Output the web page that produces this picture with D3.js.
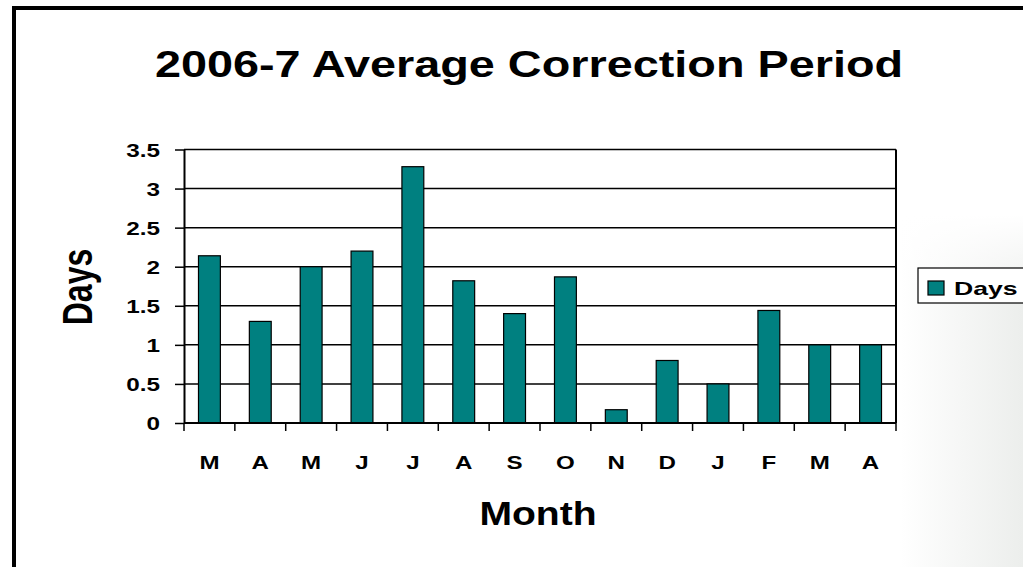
<!DOCTYPE html>
<html>
<head>
<meta charset="utf-8">
<script src="https://cdn.jsdelivr.net/npm/d3@7"></script>
<style>
  body { margin: 0; background: #fff; }
  text { font-family: Arial, "Liberation Sans", sans-serif; font-weight: bold; fill: #000; }
</style>
</head>
<body>
<div id="viz"></div>
<script>
// data
let months = ["M", "A", "M", "J", "J", "A", "S", "O", "N", "D", "J", "F", "M", "A"];
let days = [2.14, 1.30, 2.0, 2.2, 3.28, 1.82, 1.40, 1.87, 0.17, 0.80, 0.50, 1.44, 1.0, 1.0];
let yTicks = [0, 0.5, 1, 1.5, 2, 2.5, 3, 3.5];

let width = 1023, height = 567;
let plot = {left: 184, right: 896, top: 149.5, bottom: 423};

let svg = d3.select("#viz").append("svg")
    .attr("width", width)
    .attr("height", height);

// grey shade in the lower right corner
let defs = svg.append("defs");
let g1 = defs.append("linearGradient").attr("id", "shadeX")
    .attr("x1", 0).attr("x2", 1).attr("y1", 0).attr("y2", 0);
g1.append("stop").attr("offset", "0%").attr("stop-color", "#ffffff");
g1.append("stop").attr("offset", "100%").attr("stop-color", "#eceeec");
let g2 = defs.append("linearGradient").attr("id", "fadeY")
    .attr("x1", 0).attr("x2", 0).attr("y1", 0).attr("y2", 1);
g2.append("stop").attr("offset", "0%").attr("stop-color", "#fff").attr("stop-opacity", 1);
g2.append("stop").attr("offset", "100%").attr("stop-color", "#fff").attr("stop-opacity", 0);

svg.append("rect").attr("x", 900).attr("y", 215).attr("width", 123).attr("height", 352)
    .attr("fill", "url(#shadeX)");
svg.append("rect").attr("x", 900).attr("y", 215).attr("width", 123).attr("height", 90)
    .attr("fill", "url(#fadeY)");

// outer frame (runs off the right and bottom edges)
svg.append("rect")
    .attr("x", 14).attr("y", 8)
    .attr("width", 1100).attr("height", 700)
    .attr("fill", "none")
    .attr("stroke", "#000")
    .attr("stroke-width", 4);

// title
svg.append("text")
    .attr("transform", "translate(529,77) scale(1.3,1)")
    .attr("text-anchor", "middle")
    .style("font-size", "36px")
    .text("2006-7 Average Correction Period");

let x = d3.scaleBand()
    .domain(d3.range(months.length))
    .range([plot.left, plot.right])
    .paddingInner(0.57)
    .paddingOuter(0.285);

let y = d3.scaleLinear()
    .domain([0, 3.5])
    .range([plot.bottom, plot.top]);

// gridlines
svg.append("g")
    .selectAll("line")
    .data(yTicks.filter(t => t > 0))
    .enter()
    .append("line")
    .attr("x1", plot.left).attr("x2", plot.right)
    .attr("y1", d => y(d)).attr("y2", d => y(d))
    .attr("stroke", "#000")
    .attr("stroke-width", 1.5);

// right edge of plot area
svg.append("line")
    .attr("x1", plot.right).attr("x2", plot.right)
    .attr("y1", plot.top).attr("y2", plot.bottom)
    .attr("stroke", "#000").attr("stroke-width", 2);

// bars
svg.append("g")
    .selectAll("rect")
    .data(days)
    .enter()
    .append("rect")
    .attr("x", (d, i) => x(i))
    .attr("y", d => y(d))
    .attr("width", x.bandwidth())
    .attr("height", d => y(0) - y(d))
    .attr("fill", "#008080")
    .attr("stroke", "#000")
    .attr("stroke-width", 1.2);

// y axis
let yAxis = svg.append("g")
    .attr("transform", "translate(" + plot.left + ",0)")
    .call(d3.axisLeft(y).tickValues(yTicks).tickFormat(d3.format("")).tickSize(9).tickSizeOuter(0));
yAxis.select(".domain").attr("stroke-width", 2);
yAxis.selectAll(".tick line").attr("stroke-width", 1.5);
yAxis.selectAll(".tick text")
    .attr("x", 0)
    .attr("dy", null)
    .attr("transform", "translate(-24,6.5) scale(1.35,1)")
    .style("font-size", "18px")
    .style("font-family", "Arial, 'Liberation Sans', sans-serif");

// x axis: ticks sit on band boundaries
let xAxis = svg.append("g")
    .attr("transform", "translate(0," + plot.bottom + ")");
xAxis.append("line")
    .attr("x1", plot.left).attr("x2", plot.right)
    .attr("stroke", "#000").attr("stroke-width", 2);
xAxis.selectAll(".xtick")
    .data(d3.range(months.length + 1))
    .enter()
    .append("line")
    .attr("x1", i => plot.left + i * x.step())
    .attr("x2", i => plot.left + i * x.step())
    .attr("y1", 0).attr("y2", 8)
    .attr("stroke", "#000").attr("stroke-width", 1.5);
xAxis.selectAll(".xlab")
    .data(months)
    .enter()
    .append("text")
    .attr("transform", (d, i) => "translate(" + (x(i) + x.bandwidth() / 2) + ",46) scale(1.27,1)")
    .attr("text-anchor", "middle")
    .style("font-size", "19px")
    .text(d => d);

// axis titles
svg.append("text")
    .attr("transform", "translate(92,287) rotate(-90) scale(1,1.3)")
    .attr("text-anchor", "middle")
    .style("font-size", "32px")
    .text("Days");

svg.append("text")
    .attr("transform", "translate(538,525) scale(1.15,1)")
    .attr("text-anchor", "middle")
    .style("font-size", "34px")
    .text("Month");

// legend (cut off by the right edge)
let legend = svg.append("g").attr("transform", "translate(918,268)");
legend.append("rect")
    .attr("width", 140).attr("height", 35)
    .attr("fill", "#fff")
    .attr("stroke", "#000").attr("stroke-width", 1.2);
legend.append("rect")
    .attr("x", 10).attr("y", 13)
    .attr("width", 16).attr("height", 14)
    .attr("fill", "#008080")
    .attr("stroke", "#000").attr("stroke-width", 1.2);
legend.append("text")
    .attr("transform", "translate(36,27) scale(1.4,1)")
    .style("font-size", "19px")
    .text("Days");
</script>
</body>
</html>
